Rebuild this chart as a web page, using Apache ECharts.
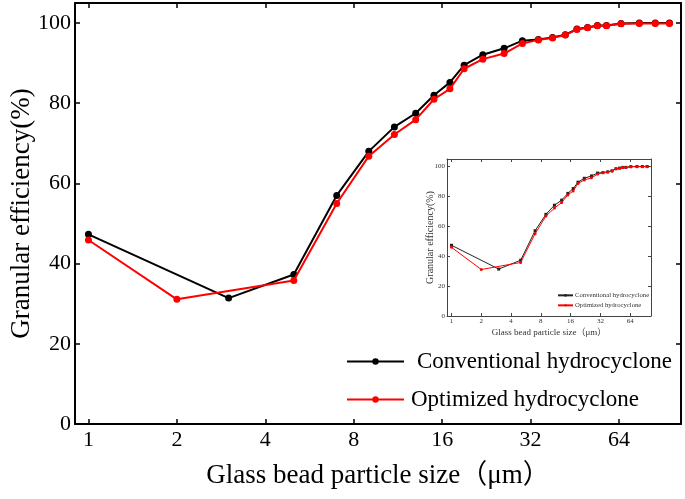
<!DOCTYPE html>
<html><head><meta charset="utf-8">
<script src="https://cdn.jsdelivr.net/npm/echarts@6/dist/echarts.min.js"></script>
<style>html,body{margin:0;padding:0;background:#fff}#c{width:685px;height:499px}</style>
</head><body><div id="c"></div>
<script>
// ---- data ----
const sizesConventional = [1,3,5,7,9,11,13,15,17,19,22,26,30,34,38,42,46,50,54,58,65,75,85,95];
const effConventional   = [47.3,31.4,37.3,57.0,68.0,74.1,77.5,82.0,85.2,89.5,92.1,93.7,95.6,95.9,96.4,97.1,98.5,98.9,99.4,99.4,99.9,100,100,100];
const sizesOptimized    = [1,2,5,7,9,11,13,15,17,19,22,26,30,34,38,42,46,50,54,58,65,75,85,95];
const effOptimized      = [45.9,31.1,35.8,55.0,66.8,72.2,75.9,81.0,83.6,88.6,91.0,92.4,94.9,95.8,96.3,97.0,98.4,98.8,99.3,99.3,99.8,99.9,99.9,99.9];
const xTicks = [1,2,4,8,16,32,64];
const yTicks = [0,20,40,60,80,100];
const seriesNames = ['Conventional hydrocyclone','Optimized hydrocyclone'];
const xTitle = 'Glass bead particle size（μm）';
const yTitle = 'Granular efficiency(%)';
const insetTag = ' (inset)';

// ---- helpers ----
const FONT = "'Liberation Serif','Noto Sans CJK SC',serif";
const pairs = (xs, ys) => xs.map((x, i) => [x, ys[i]]);
const xFmt = v => { const t = xTicks.find(t => Math.abs(t - v) < 1e-3 * t); return t === undefined ? '' : String(t); };
const yFmt = v => yTicks.includes(Math.round(v * 1000) / 1000) ? String(v) : '';
const X_MIN = 0.9, X_MAX = 104, Y_MAX = 105;

function xAxisCfg(grid, pos, showLabel, small) {
  return {
    type: 'log', logBase: 2, gridIndex: grid, position: pos, min: X_MIN, max: X_MAX,
    axisLine: { show: true, onZero: false, lineStyle: { color: small ? '#444' : '#000', width: small ? 1 : 2 } },
    axisTick: { show: true, inside: true, length: small ? 3 : 5, lineStyle: { color: small ? '#444' : '#000', width: small ? 1 : 1.5 } },
    minorTick: { show: false },
    axisLabel: { show: showLabel, formatter: xFmt, color: small ? '#333' : '#000', fontFamily: FONT, fontSize: small ? 7 : 22, margin: small ? 2 : 5 },
    splitLine: { show: false },
    name: showLabel ? xTitle : '', nameLocation: 'middle', nameGap: small ? 12 : 38, nameMoveOverlap: false,
    nameTextStyle: { color: small ? '#333' : '#000', fontFamily: FONT, fontSize: small ? 9 : 27 }
  };
}
function yAxisCfg(grid, pos, showLabel, small) {
  return {
    type: 'value', gridIndex: grid, position: pos, min: 0, max: Y_MAX, interval: 20,
    axisLine: { show: true, onZero: false, lineStyle: { color: small ? '#444' : '#000', width: small ? 1 : 2 } },
    axisTick: { show: true, inside: true, length: small ? 3 : 5, lineStyle: { color: small ? '#444' : '#000', width: small ? 1 : 1.5 } },
    axisLabel: { show: showLabel, formatter: yFmt, color: small ? '#333' : '#000', fontFamily: FONT, fontSize: small ? 7 : 22, margin: small ? 2 : 4 },
    splitLine: { show: false },
    name: showLabel ? yTitle : '', nameLocation: 'middle', nameGap: small ? 12 : 40, nameRotate: 90, nameMoveOverlap: false,
    nameTextStyle: { color: small ? '#333' : '#000', fontFamily: FONT, fontSize: small ? 10 : 27 }
  };
}

const chart = echarts.init(document.getElementById('c'), null, { renderer: 'canvas' });
chart.setOption({
  animation: false,
  backgroundColor: '#fff',
  grid: [
    { left: 75, top: 3, width: 606, height: 421, containLabel: false, outerBoundsMode: 'none' },
    { left: 447, top: 159, width: 204, height: 157, show: true, backgroundColor: '#fff', borderWidth: 0, containLabel: false, outerBoundsMode: 'none' }
  ],
  xAxis: [
    xAxisCfg(0, 'bottom', true, false),
    xAxisCfg(0, 'top', false, false),
    xAxisCfg(1, 'bottom', true, true),
    xAxisCfg(1, 'top', false, true)
  ],
  yAxis: [
    yAxisCfg(0, 'left', true, false),
    yAxisCfg(0, 'right', false, false),
    yAxisCfg(1, 'left', true, true),
    yAxisCfg(1, 'right', false, true)
  ],
  legend: [
    { data: [seriesNames[0]], left: 346, top: 350, padding: 0, itemWidth: 57, itemHeight: 8,
      textStyle: { fontFamily: FONT, fontSize: 23, color: '#000', padding: [0,0,0,8] } },
    { data: [seriesNames[1]], left: 346, top: 388, padding: 0, itemWidth: 57, itemHeight: 8,
      textStyle: { fontFamily: FONT, fontSize: 23, color: '#000', padding: [0,0,0,2] } },
    { data: [seriesNames[0] + insetTag], left: 557, top: 292, padding: 0, itemWidth: 15, itemHeight: 3,
      formatter: n => n.replace(insetTag, ''),
      textStyle: { fontFamily: FONT, fontSize: 6.7, color: '#333', padding: [0,0,0,-3] } },
    { data: [seriesNames[1] + insetTag], left: 557, top: 302, padding: 0, itemWidth: 15, itemHeight: 3,
      formatter: n => n.replace(insetTag, ''),
      textStyle: { fontFamily: FONT, fontSize: 6.7, color: '#333', padding: [0,0,0,-3] } }
  ],
  series: [
    { name: seriesNames[0], type: 'line', xAxisIndex: 0, yAxisIndex: 0, data: pairs(sizesConventional, effConventional),
      symbol: 'circle', symbolSize: 7, itemStyle: { color: '#000' }, lineStyle: { color: '#000', width: 2 }, z: 3 },
    { name: seriesNames[1], type: 'line', xAxisIndex: 0, yAxisIndex: 0, data: pairs(sizesOptimized, effOptimized),
      symbol: 'circle', symbolSize: 7, itemStyle: { color: '#ff0000' }, lineStyle: { color: '#ff0000', width: 2 }, z: 4 },
    { name: seriesNames[0] + insetTag, type: 'line', xAxisIndex: 2, yAxisIndex: 2, data: pairs(sizesConventional, effConventional),
      symbol: 'rect', symbolSize: 3, itemStyle: { color: '#222' }, lineStyle: { color: '#222', width: 1 }, z: 5 },
    { name: seriesNames[1] + insetTag, type: 'line', xAxisIndex: 2, yAxisIndex: 2, data: pairs(sizesOptimized, effOptimized),
      symbol: 'circle', symbolSize: 3, itemStyle: { color: '#ff0000' }, lineStyle: { color: '#ff0000', width: 1 }, z: 6 }
  ]
});
</script>
</body></html>
